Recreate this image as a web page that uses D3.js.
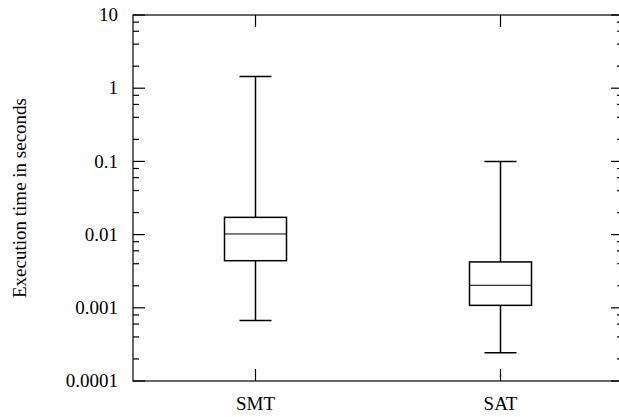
<!DOCTYPE html>
<html>
<head>
<meta charset="utf-8">
<script src="https://cdn.jsdelivr.net/npm/d3@7"></script>
<style>
  body { margin: 0; background: #fff; }
  text { font-family: "Liberation Serif", "Times New Roman", serif; fill: #000; }
</style>
</head>
<body>
<div id="chart"></div>
<script>
// box stats (seconds)
const categories = ["SMT", "SAT"];
const whiskerLow = [0.00067, 0.000244];
const quartile1 = [0.0044, 0.00108];
const medians = [0.0102, 0.00203];
const quartile3 = [0.0172, 0.00423];
const whiskerHigh = [1.45, 0.1];
const yTicks = [0.0001, 0.001, 0.01, 0.1, 1, 10];
const yTickLabels = ["0.0001", "0.001", "0.01", "0.1", "1", "10"];

const width = 619, height = 417;
const margin = { top: 15, right: -4, bottom: 36, left: 133 };

const svg = d3.select("#chart").append("svg")
    .attr("width", width)
    .attr("height", height);

const x = d3.scaleLinear().domain([0.5, 2.5]).range([margin.left, width - margin.right]);
const y = d3.scaleLog().domain([0.0001, 10]).range([height - margin.bottom, margin.top]);

const boxes = categories.map((c, i) => ({
    name: c, pos: i + 1,
    lo: whiskerLow[i], q1: quartile1[i], med: medians[i], q3: quartile3[i], hi: whiskerHigh[i]
}));

// minor ticks at 2,4,6,8 of each decade
const minor = [];
yTicks.slice(0, -1).forEach(t => [2, 4, 6, 8].forEach(m => minor.push(t * m)));

const plotL = x.range()[0], plotR = x.range()[1];
const plotT = y.range()[1], plotB = y.range()[0];

const g = svg.append("g").attr("stroke", "#000").attr("stroke-width", 1.2).attr("fill", "none");

// major ticks both sides
yTicks.forEach(t => {
    g.append("line").attr("x1", plotL).attr("x2", plotL + 12).attr("y1", y(t)).attr("y2", y(t));
    g.append("line").attr("x1", plotR).attr("x2", plotR - 12).attr("y1", y(t)).attr("y2", y(t));
});
minor.forEach(t => {
    g.append("line").attr("x1", plotL).attr("x2", plotL + 6).attr("y1", y(t)).attr("y2", y(t));
    g.append("line").attr("x1", plotR).attr("x2", plotR - 6).attr("y1", y(t)).attr("y2", y(t));
});
// x ticks bottom and top
boxes.forEach(b => {
    g.append("line").attr("x1", x(b.pos)).attr("x2", x(b.pos)).attr("y1", plotB).attr("y2", plotB - 12);
    g.append("line").attr("x1", x(b.pos)).attr("x2", x(b.pos)).attr("y1", plotT).attr("y2", plotT + 12);
});

// frame
g.append("rect").attr("x", plotL).attr("y", plotT)
    .attr("width", plotR - plotL).attr("height", plotB - plotT);

// boxes
const boxW = 62, capW = 32;
boxes.forEach(b => {
    const cx = x(b.pos);
    const bg = svg.append("g").attr("stroke", "#000").attr("stroke-width", 1.5).attr("fill", "none");
    bg.append("line").attr("x1", cx).attr("x2", cx).attr("y1", y(b.hi)).attr("y2", y(b.q3));
    bg.append("line").attr("x1", cx).attr("x2", cx).attr("y1", y(b.q1)).attr("y2", y(b.lo));
    bg.append("line").attr("x1", cx - capW / 2).attr("x2", cx + capW / 2).attr("y1", y(b.hi)).attr("y2", y(b.hi));
    bg.append("line").attr("x1", cx - capW / 2).attr("x2", cx + capW / 2).attr("y1", y(b.lo)).attr("y2", y(b.lo));
    bg.append("rect").attr("x", cx - boxW / 2).attr("y", y(b.q3))
        .attr("width", boxW).attr("height", y(b.q1) - y(b.q3));
    bg.append("line").attr("x1", cx - boxW / 2).attr("x2", cx + boxW / 2)
        .attr("y1", y(b.med)).attr("y2", y(b.med)).attr("stroke-width", 1);
});

// labels
svg.selectAll(".ylab").data(yTicks).enter().append("text")
    .attr("x", plotL - 15).attr("y", d => y(d)).attr("dy", "0.33em")
    .attr("text-anchor", "end").attr("font-size", 19)
    .text((d, i) => yTickLabels[i]);

svg.selectAll(".xlab").data(boxes).enter().append("text")
    .attr("x", d => x(d.pos)).attr("y", 410)
    .attr("text-anchor", "middle").attr("font-size", 19)
    .text(d => d.name);

svg.append("text")
    .attr("transform", `translate(26,${(plotT + plotB) / 2}) rotate(-90)`)
    .attr("text-anchor", "middle").attr("font-size", 19)
    .text("Execution time in seconds");
</script>
</body>
</html>
